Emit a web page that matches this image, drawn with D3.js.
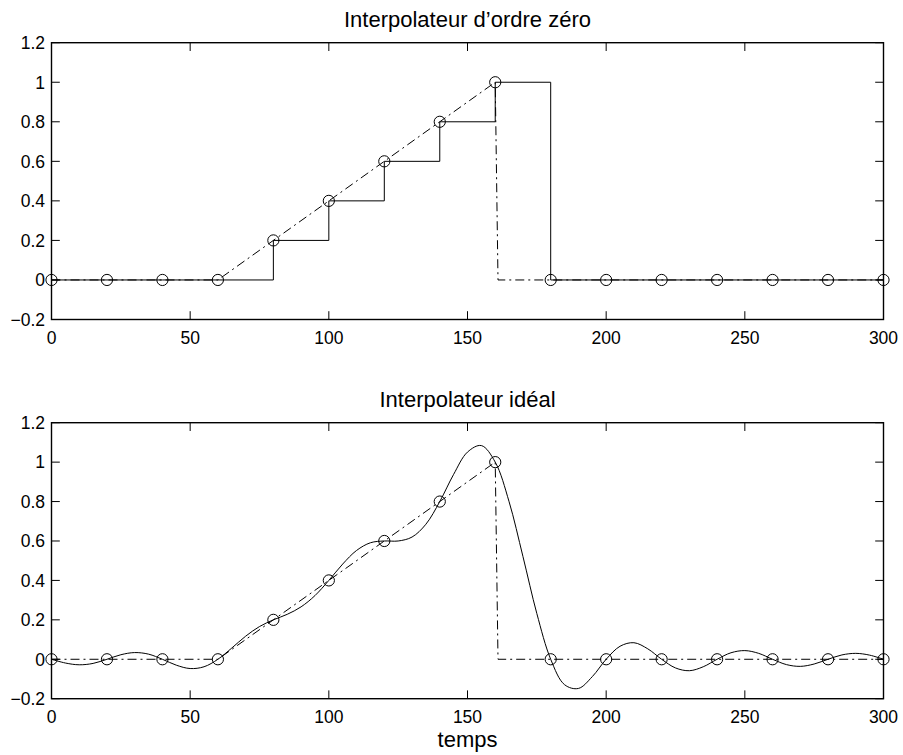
<!DOCTYPE html>
<html>
<head>
<meta charset="utf-8">
<script src="https://cdn.jsdelivr.net/npm/d3@7"></script>
<style>
  body { margin: 0; background: #fff; }
  svg { display: block; font-family: "Liberation Sans", Arial, Helvetica, sans-serif; }
  .frame { fill: none; stroke: #000; stroke-width: 1.4; }
  .tick-mark { stroke: #000; stroke-width: 1; }
  .tick-label { font-size: 17.5px; fill: #000; }
  .title { font-size: 22px; fill: #000; text-anchor: middle; }
  .line { fill: none; stroke: #000; stroke-width: 1; }
  .dashdot { stroke-dasharray: 9 4 2 4; }
  .marker { fill: none; stroke: #000; stroke-width: 1; }
</style>
</head>
<body>
<svg id="chart" width="903" height="755"></svg>
<script>
//sample instants and sample values (circles)
var sampleT = [0, 20, 40, 60, 80, 100, 120, 140, 160, 180, 200, 220, 240, 260, 280, 300];
var sampleV = [0, 0, 0, 0, 0.2, 0.4, 0.6, 0.8, 1, 0, 0, 0, 0, 0, 0, 0];

//original signal (dash-dot)
var signalT = [0, 60, 160, 161, 300];
var signalV = [0, 0, 1, 0, 0];

//ideal interpolator output
var idealT = [0, 5, 10, 15, 20, 25, 30, 35, 40, 45, 50, 55, 60, 65, 70, 75, 80, 85, 90, 95,
              100, 105, 110, 115, 120, 125, 130, 135, 140, 145, 150, 155, 160, 165, 170, 175,
              180, 185, 190, 195, 200, 205, 210, 215, 220, 225, 230, 235, 240, 245, 250, 255,
              260, 265, 270, 275, 280, 285, 290, 295, 300];
var idealV = [0, -0.019, -0.028, -0.021, 0, 0.023, 0.034, 0.026, 0, -0.030, -0.047, -0.038,
              0, 0.057, 0.117, 0.166, 0.2, 0.228, 0.266, 0.323, 0.4, 0.483, 0.552, 0.591,
              0.6, 0.600, 0.620, 0.685, 0.8, 0.938, 1.051, 1.084, 1.0, 0.799, 0.521, 0.232,
              0, -0.129, -0.148, -0.088, 0, 0.066, 0.084, 0.053, 0, -0.044, -0.058, -0.038,
              0, 0.033, 0.044, 0.030, 0, -0.027, -0.036, -0.024, 0, 0.022, 0.030, 0.021, 0];

//tick values and labels
var xTicks = [0, 50, 100, 150, 200, 250, 300];
var yTicks = [-0.2, 0, 0.2, 0.4, 0.6, 0.8, 1, 1.2];
var yTickLabels = ['\u22120.2', '0', '0.2', '0.4', '0.6', '0.8', '1', '1.2'];

var titles = ['Interpolateur d\u2019ordre z\u00e9ro', 'Interpolateur id\u00e9al'];
var xLabel = 'temps';

var svg = d3.select('#chart');

//shared x scale
var xScale = d3.scaleLinear().domain([0, 300]).range([51.5, 883.5]);

//one panel = frame, ticks, labels, title
function panel(top, bottom, title) {
    var yScale = d3.scaleLinear().domain([-0.2, 1.2]).range([bottom, top]);
    var g = svg.append('g');
    var tickLen = 8.3;

    //x ticks (bottom and top, inward)
    g.selectAll('.xt').data(xTicks).enter().append('path')
        .attr('class', 'tick-mark')
        .attr('d', d => 'M' + xScale(d) + ',' + bottom + 'v' + (-tickLen) +
                        'M' + xScale(d) + ',' + top + 'v' + tickLen);

    //y ticks (left and right, inward)
    g.selectAll('.yt').data(yTicks).enter().append('path')
        .attr('class', 'tick-mark')
        .attr('d', d => 'M' + xScale.range()[0] + ',' + yScale(d) + 'h' + tickLen +
                        'M' + xScale.range()[1] + ',' + yScale(d) + 'h' + (-tickLen));

    //x tick labels
    g.selectAll('.xl').data(xTicks).enter().append('text')
        .attr('class', 'tick-label')
        .attr('text-anchor', 'middle')
        .attr('x', d => xScale(d))
        .attr('y', bottom + 24.5)
        .text(d => d);

    //y tick labels
    g.selectAll('.yl').data(yTicks).enter().append('text')
        .attr('class', 'tick-label')
        .attr('text-anchor', 'end')
        .attr('x', xScale.range()[0] - 6.5)
        .attr('y', d => yScale(d))
        .attr('dy', '0.36em')
        .text((d, i) => yTickLabels[i]);

    //title
    g.append('text')
        .attr('class', 'title')
        .attr('x', (xScale.range()[0] + xScale.range()[1]) / 2)
        .attr('y', top - 15.5)
        .text(title);

    return {g: g, y: yScale, top: top, bottom: bottom};
}

function drawFrame(p) {
    p.g.append('rect')
        .attr('class', 'frame')
        .attr('x', xScale.range()[0])
        .attr('y', p.top)
        .attr('width', xScale.range()[1] - xScale.range()[0])
        .attr('height', p.bottom - p.top);
}

function drawCommon(p) {
    //original signal, dash-dot
    var sig = signalT.map((t, i) => [t, signalV[i]]);
    p.g.append('path')
        .attr('class', 'line dashdot')
        .attr('d', d3.line().x(d => xScale(d[0])).y(d => p.y(d[1]))(sig));

    //sample circles
    p.g.selectAll('.marker').data(sampleT).enter().append('circle')
        .attr('class', 'marker')
        .attr('cx', d => xScale(d))
        .attr('cy', (d, i) => p.y(sampleV[i]))
        .attr('r', 5.6);
}

//TOP PANEL: zero-order hold
var p1 = panel(42.7, 319.5, titles[0]);
drawCommon(p1);
var samples = sampleT.map((t, i) => [t, sampleV[i]]);
p1.g.append('path')
    .attr('class', 'line')
    .attr('d', d3.line().curve(d3.curveStepAfter)
        .x(d => xScale(d[0])).y(d => p1.y(d[1]))(samples));
drawFrame(p1);

//BOTTOM PANEL: ideal interpolator
var p2 = panel(422.7, 698.7, titles[1]);
drawCommon(p2);
var ideal = idealT.map((t, i) => [t, idealV[i]]);
p2.g.append('path')
    .attr('class', 'line')
    .attr('d', d3.line().curve(d3.curveCatmullRom.alpha(0.5))
        .x(d => xScale(d[0])).y(d => p2.y(d[1]))(ideal));
drawFrame(p2);

//x axis label
svg.append('text')
    .attr('class', 'title')
    .attr('x', (xScale.range()[0] + xScale.range()[1]) / 2)
    .attr('y', 746.7)
    .text(xLabel);
</script>
</body>
</html>
